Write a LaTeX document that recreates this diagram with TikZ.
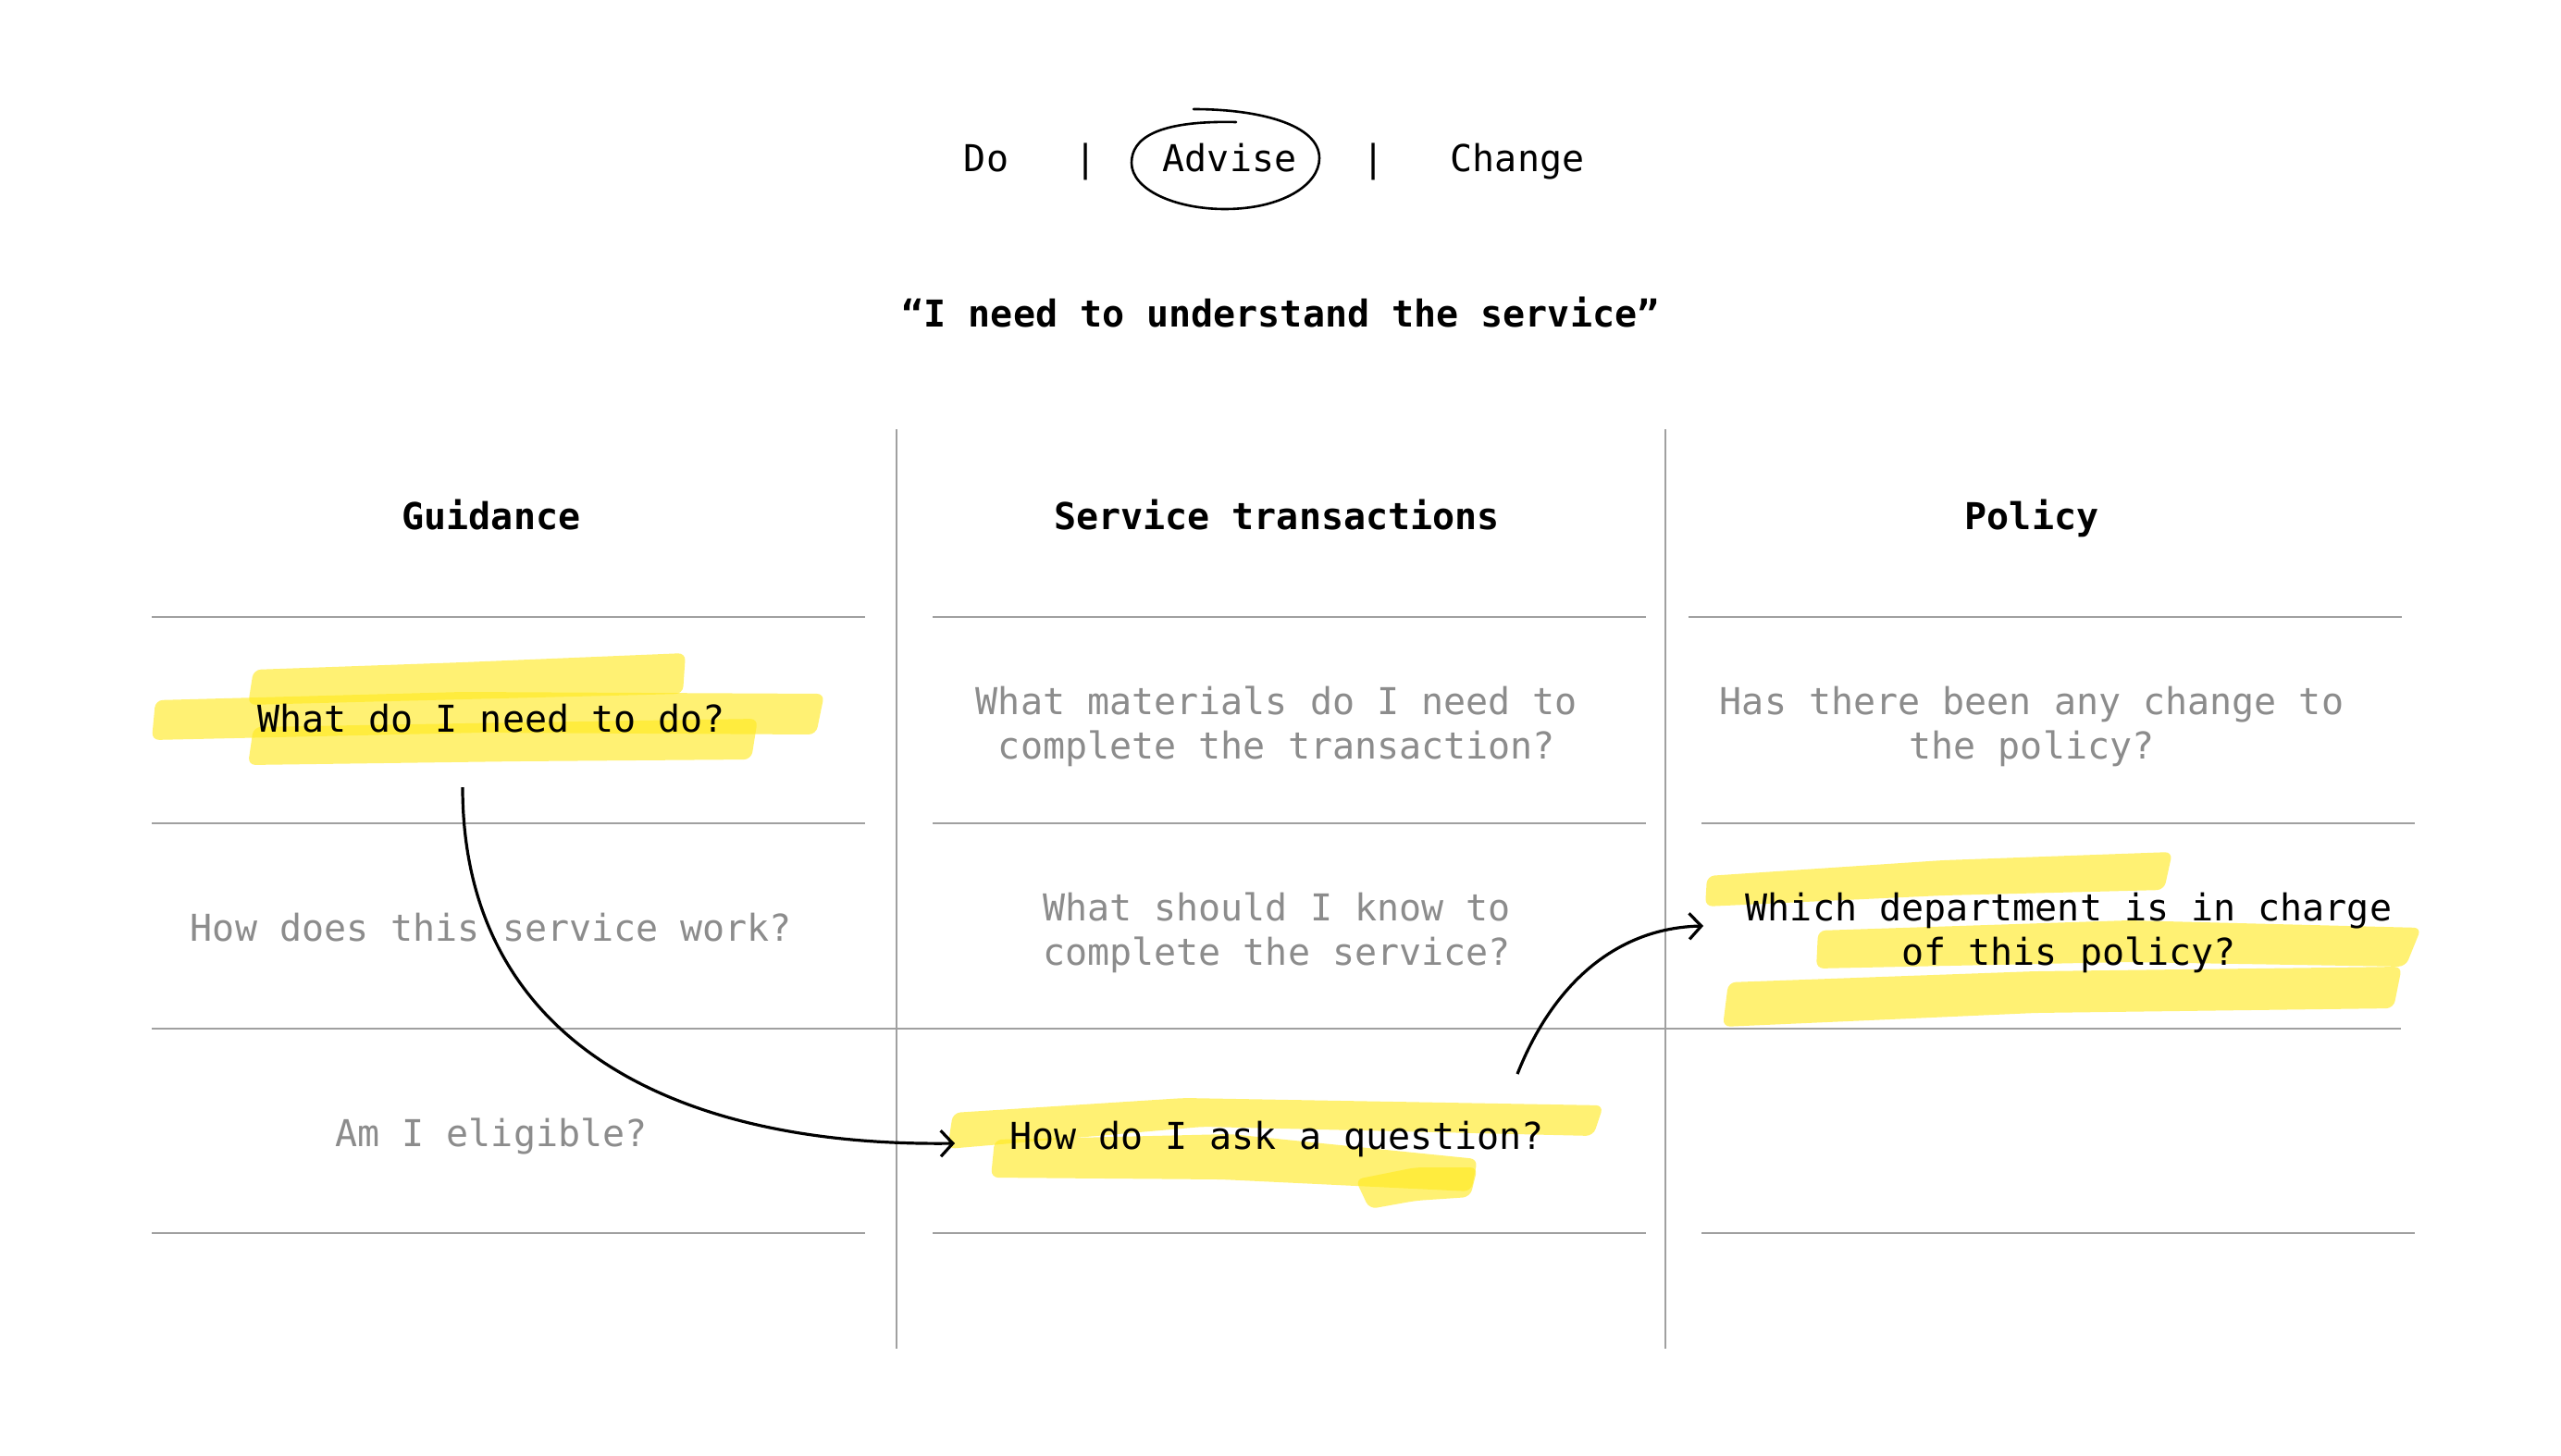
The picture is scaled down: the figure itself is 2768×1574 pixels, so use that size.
\documentclass[tikz,border=0pt]{standalone}
\usepackage{fontspec}
\setmonofont{DejaVu Sans Mono}
\usetikzlibrary{arrows.meta}
\definecolor{hlyellow}{RGB}{255,234,30}
\definecolor{greytext}{RGB}{140,140,140}
\definecolor{rulegrey}{RGB}{160,160,160}
\tikzset{
  txt/.style={font=\ttfamily\fontsize{40}{48}\selectfont, inner sep=0pt, align=center, text=black},
  gtxt/.style={txt, text=greytext},
  htxt/.style={txt, font=\ttfamily\bfseries\fontsize{40}{48}\selectfont},
  one/.style={anchor=base},
  rule/.style={draw=rulegrey, line width=2.2pt},
  hl/.style={fill=hlyellow, fill opacity=0.62, rounded corners=8pt},
  conn/.style={draw=black, line width=3.2pt, -{Straight Barb[length=13pt,width=28pt,line width=3.2pt]}},
}
\begin{document}
\begin{tikzpicture}[x=1pt,y=-1pt]
\useasboundingbox (0,0) rectangle (2768,1574);
\fill[white] (0,0) rectangle (2768,1574);

% highlights
\fill[hl] (168,757) -- (500,748) -- (891,750) -- (882,794) -- (520,792) -- (164,800) -- cycle;
\fill[hl] (274,724) -- (500,716) -- (741,706) -- (738,750) -- (500,756) -- (268,762) -- cycle;
\fill[hl] (274,786) -- (560,781) -- (819,777) -- (812,821) -- (560,823) -- (268,827) -- cycle;

\fill[hl] (1030,1203) -- (1280,1187) -- (1733,1195) -- (1722,1228) -- (1300,1218) -- (1024,1242) -- cycle;
\fill[hl] (1075,1232) -- (1330,1226) -- (1597,1253) -- (1590,1288) -- (1320,1275) -- (1071,1273) -- cycle;
\fill[hl] (1465,1275) -- (1530,1262) -- (1597,1262) -- (1589,1294) -- (1530,1298) -- (1480,1307) -- cycle;

\fill[hl] (1845,947) -- (2100,930) -- (2348,921) -- (2339,962) -- (2100,968) -- (1843,980) -- cycle;
\fill[hl] (1965,1006) -- (2300,995) -- (2617,1003) -- (2600,1045) -- (2300,1040) -- (1963,1047) -- cycle;
\fill[hl] (1868,1062) -- (2200,1050) -- (2596,1045) -- (2587,1090) -- (2200,1095) -- (1862,1110) -- cycle;

% top selector
\node[txt,one] (do) at (1066,185) {Do};
\node[txt,one] (bar1) at (1174,185) {|};
\node[txt,one] (advise) at (1329,185) {Advise};
\node[txt,one] (bar2) at (1485,185) {|};
\node[txt,one] (change) at (1640,185) {Change};
\draw[line width=2.6pt, line cap=round] (1336,132) .. controls (1250,130) and (1223,150) .. (1223,176)
  .. controls (1223,205) and (1270,226) .. (1324,226)
  .. controls (1385,226) and (1426,200) .. (1426,171)
  .. controls (1426,135) and (1362,118) .. (1290,118);

\node[htxt,one] (title) at (1384,353) {“I need to understand the service”};

% column lines
\draw[rule] (969,464) -- (969,1458);
\draw[rule] (1800,464) -- (1800,1458);

% headers
\node[htxt,one] (h1) at (531,572) {Guidance};
\node[htxt,one] (h2) at (1380,572) {Service transactions};
\node[htxt,one] (h3) at (2196,572) {Policy};

% horizontal rules
\draw[rule] (164,667) -- (935,667);
\draw[rule] (164,890) -- (935,890);
\draw[rule] (164,1333) -- (935,1333);
\draw[rule] (1008,667) -- (1779,667);
\draw[rule] (1008,890) -- (1779,890);
\draw[rule] (1008,1333) -- (1779,1333);
\draw[rule] (1825,667) -- (2596,667);
\draw[rule] (1839,890) -- (2610,890);
\draw[rule] (1839,1333) -- (2610,1333);
\draw[rule] (164,1112) -- (2595,1112);

% cells
\node[txt,one] (q1) at (531,791) {What do I need to do?};
\node[gtxt,one] (q2) at (531,1017) {How does this service work?};
\node[gtxt,one] (q3) at (531,1239) {Am I eligible?};
\node[gtxt] (q4) at (1380,785) {What materials do I need to\\complete the transaction?};
\node[gtxt] (q5) at (1380,1008) {What should I know to\\complete the service?};
\node[txt,one] (q6) at (1380,1242) {How do I ask a question?};
\node[gtxt] (q7) at (2196,785) {Has there been any change to\\the policy?};
\node[txt] (q8) at (2236,1008) {Which department is in charge\\of this policy?};

% connectors
\coordinate (a1s) at (500,851);
\coordinate (a1e) at (1032,1236);
\coordinate (a2s) at (1640,1161);
\coordinate (a2e) at (1841,1001);
\draw[conn] (a1s) .. controls (500,1120) and (720,1240) .. (a1e);
\draw[conn] (a2s) .. controls (1680,1060) and (1750,1003) .. (a2e);
\end{tikzpicture}
\end{document}
